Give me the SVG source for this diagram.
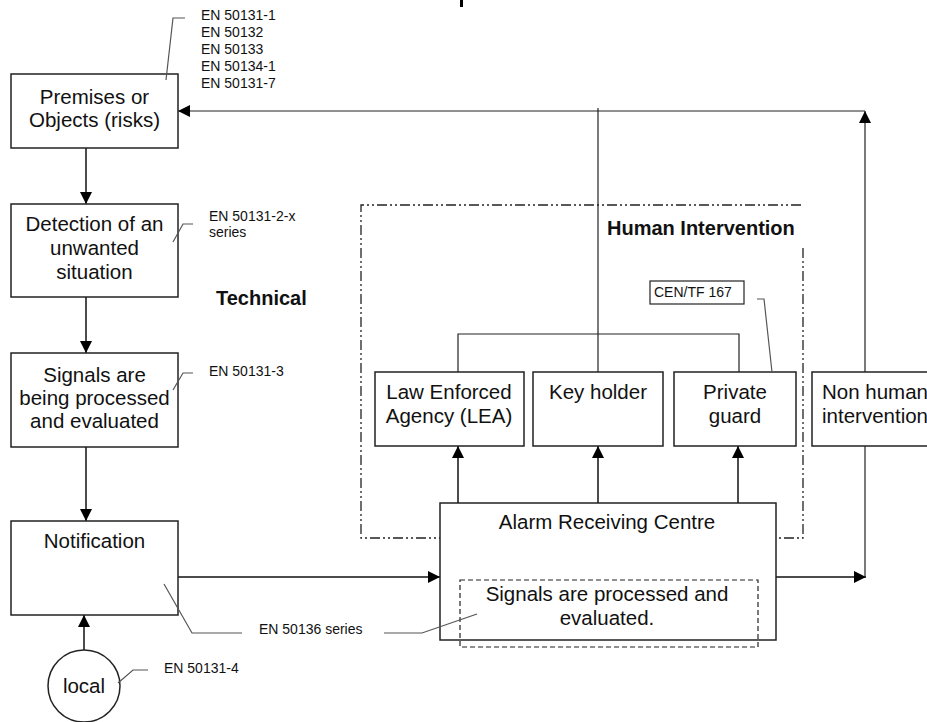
<svg xmlns="http://www.w3.org/2000/svg" width="927" height="722" viewBox="0 0 927 722">
<defs>
<style>
.box{fill:#fff;stroke:#222;stroke-width:1.5}
.t{font-family:"Liberation Sans",Arial,sans-serif;font-size:20.5px;fill:#111;text-anchor:middle}
.s{font-family:"Liberation Sans",Arial,sans-serif;font-size:14px;fill:#111}
.b{font-family:"Liberation Sans",Arial,sans-serif;font-size:20px;font-weight:bold;fill:#111}
.c{fill:none;stroke:#111;stroke-width:1.5}
.thin{fill:none;stroke:#222;stroke-width:1.2}
.lead{fill:none;stroke:#555;stroke-width:1.2}
</style>
<marker id="ah" markerUnits="userSpaceOnUse" markerWidth="12" markerHeight="12" refX="12" refY="6" orient="auto">
<path d="M0,0 L12,6 L0,12 z" fill="#000"/>
</marker>
</defs>
<rect width="927" height="722" fill="#fff"/>
<rect x="460" y="0" width="3" height="7" fill="#000"/>

<g id="human-intervention-area">
<path d="M803,248 V538 H361 V205 H803" fill="none" stroke="#222" stroke-width="1.3" stroke-dasharray="10,3,2,3,2,3"/>
<text class="b" x="607" y="235">Human Intervention</text>
</g>
<text class="b" x="216" y="305">Technical</text>

<g id="connectors">
<path class="c" d="M86,148 V204" marker-end="url(#ah)"/>
<path class="c" d="M86,297 V353" marker-end="url(#ah)"/>
<path class="c" d="M86,447 V521" marker-end="url(#ah)"/>
<path class="c" d="M84,650 V615" marker-end="url(#ah)"/>
<path class="c" d="M178,577 H440" marker-end="url(#ah)"/>
<path class="c" d="M458,503 V446" marker-end="url(#ah)"/>
<path class="c" d="M598,503 V446" marker-end="url(#ah)"/>
<path class="c" d="M738,503 V446" marker-end="url(#ah)"/>
<path class="c" d="M776,577 H866" marker-end="url(#ah)"/>
<path class="thin" d="M865,446 V577"/>
<path class="thin" d="M865,372 V111" marker-end="url(#ah)"/>
<path class="thin" d="M865,111 H178" marker-end="url(#ah)"/>
<path class="thin" d="M598,108 V372"/>
<path class="thin" d="M458,372 V334 H739 V372"/>
</g>

<g id="premises">
<rect class="box" x="11" y="74" width="167" height="74"/>
<text class="t" x="94.5" y="104">Premises or</text>
<text class="t" x="94.5" y="127">Objects (risks)</text>
</g>
<g id="premises-standards">
<text class="s" x="201" y="20">EN 50131-1</text>
<text class="s" x="201" y="37">EN 50132</text>
<text class="s" x="201" y="54">EN 50133</text>
<text class="s" x="201" y="71">EN 50134-1</text>
<text class="s" x="201" y="88">EN 50131-7</text>
</g>

<g id="detection">
<rect class="box" x="11" y="204" width="167" height="93"/>
<text class="t" x="94.5" y="231">Detection of an</text>
<text class="t" x="94.5" y="255">unwanted</text>
<text class="t" x="94.5" y="279">situation</text>
</g>
<g id="detection-standard">
<text class="s" x="209" y="221">EN 50131-2-x</text>
<text class="s" x="209" y="237">series</text>
</g>

<g id="signals">
<rect class="box" x="11" y="353" width="167" height="94"/>
<text class="t" x="94.5" y="382">Signals are</text>
<text class="t" x="94.5" y="405">being processed</text>
<text class="t" x="94.5" y="428">and evaluated</text>
</g>
<text class="s" x="209" y="376">EN 50131-3</text>

<g id="notification">
<rect class="box" x="11" y="521" width="167" height="94"/>
<text class="t" x="94.5" y="548">Notification</text>
</g>
<text class="s" x="259" y="634">EN 50136 series</text>

<g id="local">
<circle cx="84" cy="686" r="36" fill="#fff" stroke="#222" stroke-width="1.5"/>
<text class="t" x="84" y="693">local</text>
</g>
<text class="s" x="164" y="673">EN 50131-4</text>

<g id="lea">
<rect class="box" x="375" y="372" width="149" height="74"/>
<text class="t" x="449" y="399">Law Enforced</text>
<text class="t" x="449" y="423">Agency (LEA)</text>
</g>
<g id="key-holder">
<rect class="box" x="533" y="372" width="130" height="74"/>
<text class="t" x="598" y="399">Key holder</text>
</g>
<g id="private-guard">
<rect class="box" x="674" y="372" width="122" height="74"/>
<text class="t" x="735" y="399">Private</text>
<text class="t" x="735" y="423">guard</text>
</g>
<g id="cen-tf">
<rect x="650" y="281" width="94" height="23" fill="#fff" stroke="#222" stroke-width="1.2"/>
<text class="s" x="654" y="297">CEN/TF 167</text>
</g>
<g id="non-human">
<rect class="box" x="812" y="372" width="130" height="74"/>
<text class="t" x="875" y="399">Non human</text>
<text class="t" x="875" y="423">intervention</text>
</g>

<g id="arc">
<rect class="box" x="440" y="503" width="336" height="137" fill="none"/>
<text class="t" x="607" y="529">Alarm Receiving Centre</text>
<rect x="460" y="580" width="298" height="67" fill="none" stroke="#222" stroke-width="1.2" stroke-dasharray="5,3"/>
<text class="t" x="607" y="601">Signals are processed and</text>
<text class="t" x="607" y="625">evaluated.</text>
</g>

<g id="leaders">
<path class="lead" d="M166,80 L173,18 H185"/>
<path class="lead" d="M173,242 L183,224 H193"/>
<path class="lead" d="M173,390 L183,373 H193"/>
<path class="lead" d="M118,683 L133,670 H148"/>
<path class="lead" d="M164,584 L192,633 H242"/>
<path class="lead" d="M384,633 H422 L477,614"/>
<path class="lead" d="M757,299 H764 L772,372"/>
</g>
</svg>
